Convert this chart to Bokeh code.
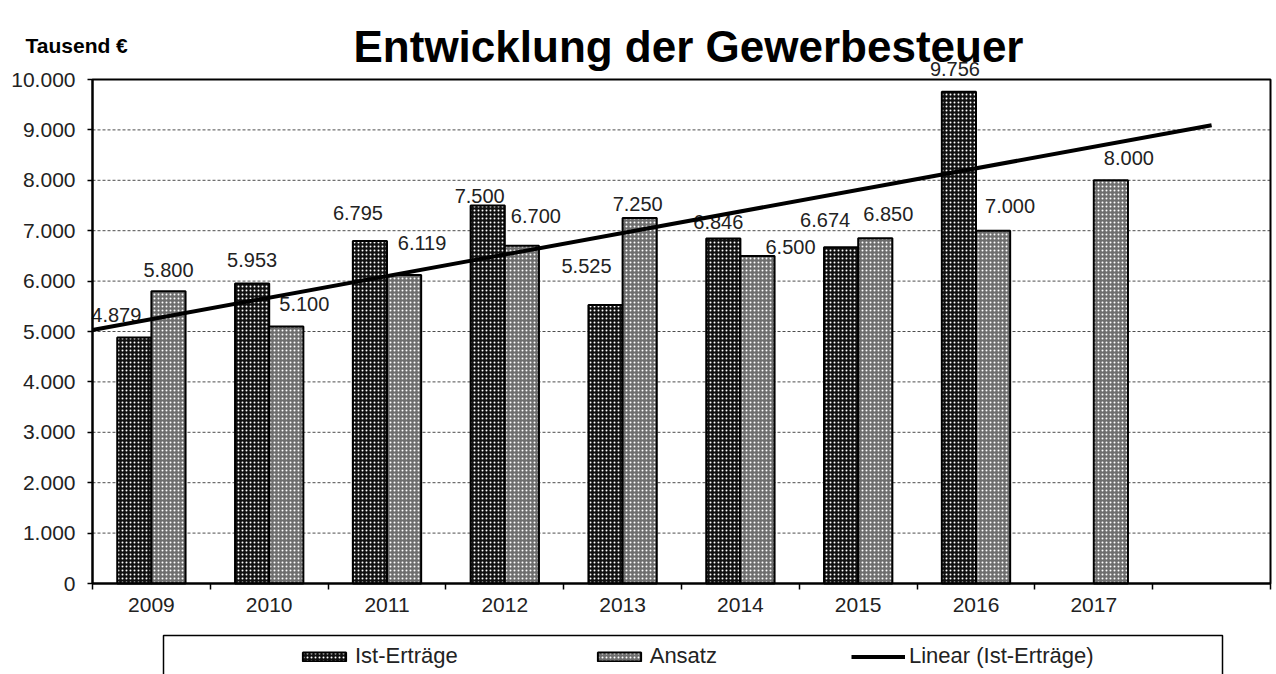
import numpy as np
from bokeh.plotting import figure
from bokeh.models import (ColumnDataSource, FixedTicker, Legend, LegendItem, Label,
                          BoxAnnotation, Range1d)
from bokeh.transform import dodge
from bokeh.core.properties import value
from bokeh.embed import file_html
from bokeh.resources import INLINE

# ---------------- data ----------------
years = ["2009", "2010", "2011", "2012", "2013", "2014", "2015", "2016", "2017"]
ist_ertraege = [4879, 5953, 6795, 7500, 5525, 6846, 6674, 9756]          # 2009-2016
ansatz = [5800, 5100, 6119, 6700, 7250, 6500, 6850, 7000, 8000]          # 2009-2017
y_ticks = [0, 1000, 2000, 3000, 4000, 5000, 6000, 7000, 8000, 9000, 10000]
y_tick_labels = ["0", "1.000", "2.000", "3.000", "4.000", "5.000", "6.000",
                 "7.000", "8.000", "9.000", "10.000"]
title_text = "Entwicklung der Gewerbesteuer"
unit_text = "Tausend €"
legend_labels = ["Ist-Erträge", "Ansatz", "Linear (Ist-Erträge)"]

# ---------------- layout (pixels) ----------------
W, H = 1276, 674
CL, CR, CT, CB = 92, 1270, 79, 583          # chart area inside the canvas
ist_dx = [-18, 0, -12, -8, -19, -5, -16, -4]
ist_dy = [23, 23, 28, 10, 39, 16, 27, 23]
ans_dx = [0, 18, 18, 14, -2, 33, 13, 17, 18]
ans_dy = [21, 22, 32, 30, 14, 9, 24, 25, 22]
FONT = "Liberation Sans"
TXT = "#222222"

n_slots = len(years) + 1
ppx = (CR - CL) / n_slots
ppy = (CB - CT) / y_ticks[-1]
x_start = 0.5 - CL / ppx
x_end = n_slots + 0.5 + (W - CR) / ppx
y_end = y_ticks[-1] + CT / ppy
y_start = -(H - CB) / ppy

def fx(px):
    return x_start + px / ppx

def fy(py):
    return y_end - py / ppy

def de_fmt(v):
    return f"{v:,}".replace(",", ".")

slots_ist = list(range(1, len(ist_ertraege) + 1))
slots_ans = list(range(1, len(ansatz) + 1))

src_ist = ColumnDataSource(dict(slot=slots_ist, v=ist_ertraege,
                                lab=[de_fmt(v) for v in ist_ertraege],
                                dx=ist_dx, dy=[-d for d in ist_dy]))
src_ans = ColumnDataSource(dict(slot=slots_ans, v=ansatz,
                                lab=[de_fmt(v) for v in ansatz],
                                dx=ans_dx, dy=[-d for d in ans_dy]))

p = figure(width=W, height=H, output_backend="svg", toolbar_location=None,
           x_range=Range1d(x_start, x_end), y_range=Range1d(y_start, y_end),
           min_border=0)
p.background_fill_color = "white"
p.border_fill_color = "white"
p.outline_line_color = None
p.grid.visible = False

# dashed horizontal grid lines inside the chart area
grid_src = ColumnDataSource(dict(y=y_ticks[1:-1]))
p.segment(x0=0.5, x1=n_slots + 0.5, y0="y", y1="y", source=grid_src,
          line_color="#4d4d4d", line_dash="3 2", line_width=1)

# y axis
p.yaxis.fixed_location = 0.5
p.yaxis.bounds = (y_ticks[0], y_ticks[-1])
p.yaxis.ticker = FixedTicker(ticks=y_ticks, minor_ticks=[])
p.yaxis.major_label_overrides = {t: l for t, l in zip(y_ticks, y_tick_labels)}
p.yaxis.major_label_text_font = FONT
p.yaxis.major_label_text_font_size = "21px"
p.yaxis.major_label_text_color = TXT
p.yaxis.major_tick_out = 5
p.yaxis.major_tick_in = 0
p.yaxis.major_tick_line_width = 1.5
p.yaxis.axis_line_width = 2
p.yaxis.major_label_standoff = 12

# x axis: labels at slot centres, tick marks at slot boundaries
p.xaxis.fixed_location = 0
p.xaxis.bounds = (0.5, n_slots + 0.5)
p.xaxis.ticker = FixedTicker(ticks=slots_ans,
                             minor_ticks=[s + 0.5 for s in range(0, n_slots + 1)])
p.xaxis.major_label_overrides = {s: y for s, y in zip(slots_ans, years)}
p.xaxis.major_label_text_font = FONT
p.xaxis.major_label_text_font_size = "21px"
p.xaxis.major_label_text_color = TXT
p.xaxis.major_tick_line_color = None
p.xaxis.minor_tick_out = 6
p.xaxis.minor_tick_in = 0
p.xaxis.minor_tick_line_width = 1.5
p.xaxis.axis_line_width = 2
p.xaxis.major_label_standoff = 8

# chart border
p.add_layout(BoxAnnotation(left=0.5, right=n_slots + 0.5, bottom=y_ticks[0], top=y_ticks[-1],
                           fill_alpha=0, line_color="black", line_alpha=1, line_width=2))

bw = 0.29
r_ist = p.vbar(x=dodge("slot", -bw / 2, range=p.x_range), top="v", width=bw, source=src_ist,
               fill_color="#111111", line_color="black", line_width=2,
               hatch_pattern="dot", hatch_color="white", hatch_scale=4, hatch_weight=1)
r_ans = p.vbar(x=dodge("slot", bw / 2, range=p.x_range), top="v", width=bw, source=src_ans,
               fill_color="#6e6e6e", line_color="black", line_width=2,
               hatch_pattern="dot", hatch_color="white", hatch_scale=4, hatch_weight=1)

p.text(x=dodge("slot", -bw / 2, range=p.x_range), y="v", text="lab", source=src_ist,
       x_offset="dx", y_offset="dy", text_align="center", text_baseline="middle",
       text_font=value(FONT), text_font_size="20px", text_color=TXT)
p.text(x=dodge("slot", bw / 2, range=p.x_range), y="v", text="lab", source=src_ans,
       x_offset="dx", y_offset="dy", text_align="center", text_baseline="middle",
       text_font=value(FONT), text_font_size="20px", text_color=TXT)

# linear trend of Ist-Erträge (Excel style, 2 periods forward)
coef = np.polyfit(slots_ist, ist_ertraege, 1)
trend_x = [0.5, len(ist_ertraege) + 2]
trend_y = list(np.polyval(coef, trend_x))
r_lin = p.line(trend_x, trend_y, line_color="black", line_width=4)

# titles
p.add_layout(Label(x=fx(688), y=fy(46), text=title_text,
                   text_font=FONT, text_font_size="44px", text_font_style="bold",
                   text_align="center", text_baseline="alphabetic", text_color="black"))
p.add_layout(Label(x=fx(25), y=fy(45), text=unit_text,
                   text_font=FONT, text_font_size="21px", text_font_style="bold",
                   text_align="left", text_baseline="alphabetic", text_color="black"))

# legend
legend = Legend(items=[LegendItem(label=legend_labels[0], renderers=[r_ist]),
                       LegendItem(label=legend_labels[1], renderers=[r_ans]),
                       LegendItem(label=legend_labels[2], renderers=[r_lin])],
                orientation="horizontal", location=(297, 5), padding=0, margin=0,
                spacing=134, glyph_width=54, glyph_height=11, label_standoff=4,
                label_height=24,
                label_text_font=FONT, label_text_font_size="22px",
                label_text_color=TXT,
                border_line_color=None, background_fill_alpha=0)
p.add_layout(legend)
p.add_layout(BoxAnnotation(left=fx(163), right=fx(1222), top=fy(635), bottom=fy(760),
                           fill_alpha=0, line_color="black", line_alpha=1, line_width=1.5))

open("out.html", "w").write(file_html(p, INLINE))
